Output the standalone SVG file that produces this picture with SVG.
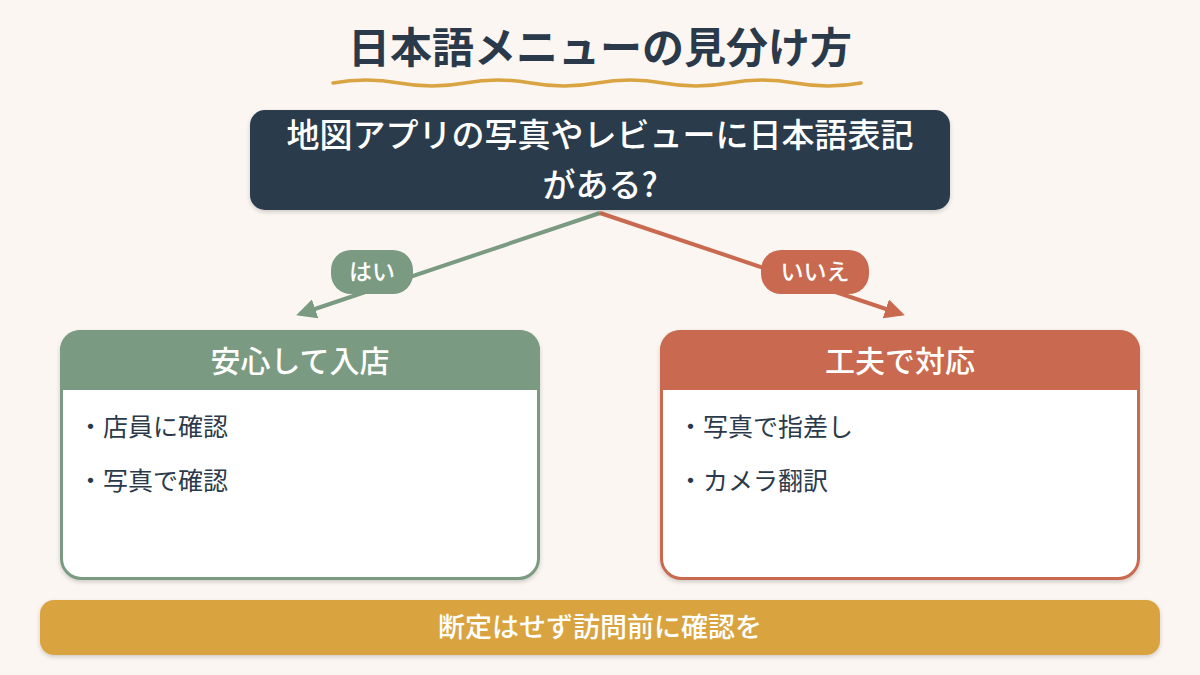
<svg xmlns="http://www.w3.org/2000/svg" width="1200" height="675" viewBox="0 0 1200 675">
<style>
text{font-family:"Noto Sans CJK JP","Noto Sans",sans-serif}
.title{font-size:42px;font-weight:700;fill:#2B3A4B}
.q{font-size:33px;font-weight:500;fill:#FFFFFF}
.pill{font-size:23px;font-weight:500;fill:#FFFFFF}
.hd{font-size:30px;font-weight:500;fill:#FFFFFF}
.item{font-size:25px;font-weight:400;fill:#2B3A4B}
.ban{font-size:27px;font-weight:500;fill:#FFFFFF}
.green{stroke:#7A9A82}
.red{stroke:#C96A50}
</style>
<defs>
<filter id="sh" x="-5%" y="-10%" width="110%" height="130%">
<feDropShadow dx="0" dy="2" stdDeviation="2" flood-color="#000" flood-opacity="0.18"/>
</filter>
<marker id="ag" viewBox="0 0 10 10" refX="8" refY="5" markerWidth="5" markerHeight="5" orient="auto"><path d="M0,0 L10,5 L0,10 z" fill="#7A9A82"/></marker>
<marker id="ar" viewBox="0 0 10 10" refX="8" refY="5" markerWidth="5" markerHeight="5" orient="auto"><path d="M0,0 L10,5 L0,10 z" fill="#C96A50"/></marker>
</defs>
<rect width="1200" height="675" fill="#FBF6F1"/>
<g id="title">
<text class="title" x="600" y="63" text-anchor="middle">日本語メニューの見分け方</text>
<path d="M333,83 Q366,77 399,83 T465,83 T531,83 T597,83 T663,83 T729,83 T795,83 T861,83" fill="none" stroke="#D9A441" stroke-width="3.5" stroke-linecap="round"/>
</g>
<g id="connectors" fill="none" stroke-width="4">
<line class="green" x1="600" y1="213" x2="300" y2="314" marker-end="url(#ag)"/>
<line class="red" x1="600" y1="213" x2="901" y2="314" marker-end="url(#ar)"/>
</g>
<g id="question">
<rect x="250" y="110" width="700" height="100" rx="15" fill="#2B3A4B" filter="url(#sh)"/>
<text class="q" x="600" y="147" text-anchor="middle">地図アプリの写真やレビューに日本語表記</text>
<text class="q" x="600" y="197" text-anchor="middle">がある?</text>
</g>
<g id="yes-label">
<rect x="331" y="250" width="82" height="44" rx="20" fill="#7A9A82"/>
<text class="pill" x="372" y="280" text-anchor="middle">はい</text>
</g>
<g id="no-label">
<rect x="761" y="250" width="108" height="44" rx="20" fill="#C96A50"/>
<text class="pill" x="815" y="280" text-anchor="middle">いいえ</text>
</g>
<g id="yes-card">
<rect x="61.5" y="331.5" width="477" height="247" rx="20" fill="#FFFFFF" stroke="#7A9A82" stroke-width="3" filter="url(#sh)"/>
<path d="M60,390 V350 A20,20 0 0 1 80,330 H520 A20,20 0 0 1 540,350 V390 Z" fill="#7A9A82"/>
<text class="hd" x="300" y="372" text-anchor="middle">安心して入店</text>
<text class="item" x="78" y="436">・店員に確認</text>
<text class="item" x="78" y="490">・写真で確認</text>
</g>
<g id="no-card">
<rect x="661.5" y="331.5" width="477" height="247" rx="20" fill="#FFFFFF" stroke="#C96A50" stroke-width="3" filter="url(#sh)"/>
<path d="M660,390 V350 A20,20 0 0 1 680,330 H1120 A20,20 0 0 1 1140,350 V390 Z" fill="#C96A50"/>
<text class="hd" x="900" y="372" text-anchor="middle">工夫で対応</text>
<text class="item" x="678" y="436">・写真で指差し</text>
<text class="item" x="678" y="490">・カメラ翻訳</text>
</g>
<g id="banner">
<rect x="40" y="600" width="1120" height="55" rx="14" fill="#D9A441" filter="url(#sh)"/>
<text class="ban" x="600" y="637" text-anchor="middle">断定はせず訪問前に確認を</text>
</g>
</svg>
